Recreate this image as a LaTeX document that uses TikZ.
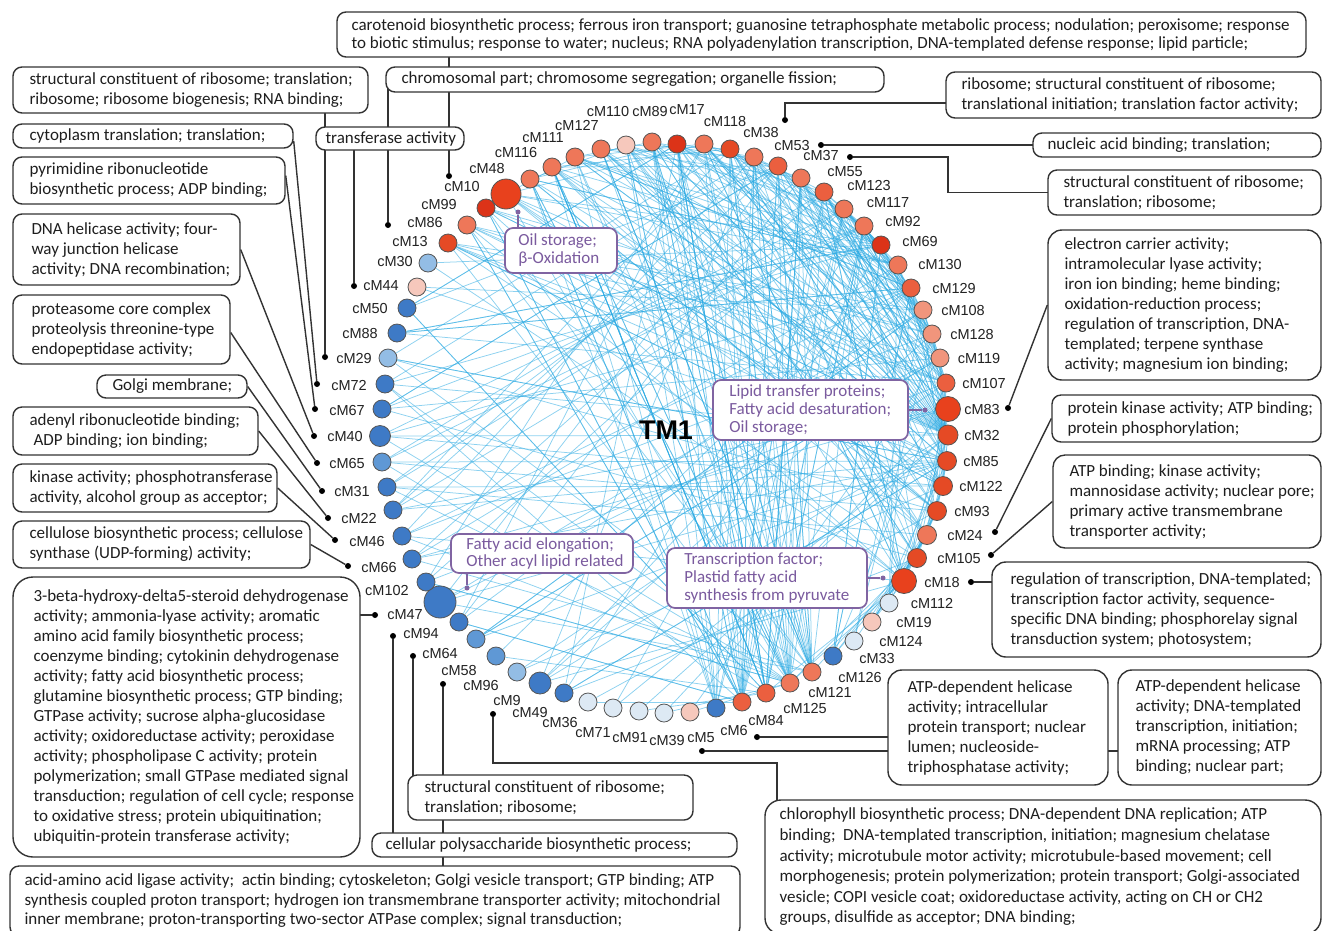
\documentclass[tikz,border=0pt]{standalone}
\usepackage{fontspec}
\newfontfamily\boxf{Carlito}
\newfontfamily\labf{Liberation Sans}
\usetikzlibrary{calc}
\pgfdeclarelayer{bg}
\pgfdeclarelayer{mid}
\pgfsetlayers{bg,mid,main}
\definecolor{boxc}{HTML}{333333}
\definecolor{txtc}{HTML}{1E1E1E}
\definecolor{purp}{HTML}{8064A2}
\definecolor{ptxt}{HTML}{7A5A9E}
\definecolor{ringc}{HTML}{555555}
\definecolor{labc}{HTML}{222222}
\definecolor{edgec}{HTML}{2FACE4}
\definecolor{rbig}{HTML}{E8411D}
\definecolor{rdark}{HTML}{DC3318}
\definecolor{rred}{HTML}{E54A25}
\definecolor{rmid}{HTML}{EB5F3F}
\definecolor{sal}{HTML}{EE7759}
\definecolor{sall}{HTML}{F1957C}
\definecolor{cpink}{HTML}{F6C8BC}
\definecolor{vlb}{HTML}{DDE9F4}
\definecolor{lb}{HTML}{93BDE5}
\definecolor{mb}{HTML}{5F98D5}
\definecolor{blu}{HTML}{3E7AC6}
\begin{document}
\begin{tikzpicture}[x=1pt,y=-1pt,
  gbox/.style={draw=boxc,line width=1.4pt,rounded corners=9pt,fill=white,inner sep=0pt},
  pbox/.style={draw=purp,line width=1.7pt,rounded corners=8pt,fill=white,inner sep=0pt},
  gtext/.style={anchor=west,align=left,inner sep=0pt,text=txtc,font=\boxf\fontsize{17}{20}\selectfont},
  ptext/.style={anchor=west,align=left,inner sep=0pt,text=ptxt,font=\boxf\fontsize{17}{17.6}\selectfont},
  conn/.style={draw=boxc,line width=1.4pt},
  pconn/.style={draw=purp,line width=1.6pt},
  dotn/.style={circle,fill=black,inner sep=0pt,minimum size=6pt},
  pdot/.style={circle,fill=purp,inner sep=0pt,minimum size=5pt},
  cmnode/.style={circle,draw=ringc,line width=0.8pt,inner sep=0pt},
  lab/.style={inner sep=0pt,font=\labf\fontsize{14.5}{16}\selectfont,text=labc},
  netedge/.style={draw=edgec,line width=0.75pt,opacity=0.55}]
\useasboundingbox (0,0) rectangle (1324,930);

% ---------- ring nodes ----------
\foreach \i/\nm/\px/\py/\rr/\col/\dx/\dy in {
1/cM10/506/194/15/rbig/-44/-7,
2/cM48/530/179/9/sal/-43/-10,
3/cM116/552/167/9/sal/-36/-14,
4/cM111/575/157/9/sal/-32/-19,
5/cM127/601/149/9/sal/-24/-23,
6/cM110/626/145/9/cpink/-18/-33,
7/cM89/652/142/9/sal/-2/-30,
8/cM17/677/144/9/rdark/10/-34,
9/cM118/704/144/9/sal/21/-22,
10/cM38/730/149/9/rred/31/-16,
11/cM53/754/157/9/sal/38/-11,
12/cM37/778/166/9/rmid/43/-10,
13/cM55/801/178/9/sal/44/-6,
14/cM123/824/192/9/rmid/45/-6,
15/cM117/844/209/9/sal/44/-6,
16/cM92/864/226/9/sal/39/-4,
17/cM69/881/245/9/rdark/39/-3,
18/cM130/898/265/9/sal/42/0,
19/cM129/911/288/9/rmid/43/0,
20/cM108/923/310/9/sall/40/0,
21/cM128/932/334/9/sall/40/0,
22/cM119/940/358/9/sall/39/0,
23/cM107/946/383/9/rmid/38/0,
24/cM83/948/409/12.5/rbig/34/0,
25/cM32/948/435/10/rred/34/0,
26/cM85/947/461/9.5/rred/34/0,
27/cM122/943/486/9.5/rred/38/0,
28/cM93/937/511/9.5/rred/35/0,
29/cM24/927/535/9.5/sal/38/0,
30/cM105/917/558/9.5/rred/42/0,
31/cM18/904/581/12.5/rbig/38/1,
32/cM112/889/603/9/vlb/43/0,
33/cM19/872/622/9/cpink/42/0,
34/cM124/854/641/9/vlb/47/0,
35/cM33/833/656/9/blu/44/2,
36/cM126/812/672/9/sal/48/5,
37/cM121/790/683/9/sal/40/9,
38/cM125/766/693/9/rmid/39/15,
39/cM84/742/702/9/rmid/24/18,
40/cM6/716/708/9/blu/18/22,
41/cM5/690/712/9/cpink/11/26,
42/cM39/664/713/9/vlb/3/27,
43/cM91/639/711/9/vlb/-9/26,
44/cM71/613/708/9/vlb/-20/25,
45/cM36/588/702/9/vlb/-28/20,
46/cM49/564/693/9/blu/-34/19,
47/cM9/540/683/11/blu/-33/17,
48/cM96/517/672/9/lb/-36/13,
49/cM58/496/656/9/mb/-37/14,
50/cM64/476/639/9/mb/-36/14,
51/cM94/459/622/9/blu/-38/11,
52/cM47/440/602/16/blu/-35/13,
53/cM102/426/582/9/blu/-39/8,
54/cM66/412/559/9/blu/-33/8,
55/cM46/402/536/9/blu/-35/5,
56/cM22/393/510/9/blu/-34/8,
57/cM31/387/487/9/blu/-35/4,
58/cM65/382/462/9/mb/-35/1,
59/cM40/380/436/10.5/blu/-35/0,
60/cM67/382/409/9/blu/-35/1,
61/cM72/385/384/9/blu/-36/1,
62/cM29/388/358/9/lb/-34/0,
63/cM88/397/333/9/blu/-37/0,
64/cM50/407/308/9/blu/-37/0,
65/cM44/417/287/9/cpink/-36/-1,
66/cM30/428/263/9/lb/-33/-1,
67/cM13/448/243/9/rred/-38/-1,
68/cM86/467/225/9/sal/-42/-2,
69/cM99/486/208/9/rdark/-47/-3}{
  \node[cmnode,fill=\col,minimum size=\rr*2pt] (n\i) at (\px,\py) {};
  \node[lab] (l\i) at ($(n\i)+(\dx,\dy)$) {\nm};
}

\node[font=\labf\bfseries\fontsize{27}{30}\selectfont,text=black] (tm) at (666,430) {TM1};

% ---------- dots ----------
\foreach \nm/\px/\py in {d10/449/176,d86/388/225,d44/354/286,d29/325/357,d72/317/384,
  d67/315/409,d40/314/436,d65/317/463,d31/322/491,d22/328/518,d46/335/540,d66/348/566,
  d47/375/615,d94/393/636,d64/413/656,d58/443/684,d9/493/714,d5/702/751,d6/757/737,
  d18/971/582,d105/991/555,d24/995/532,d83/1008/408,d37/850/157,d53/821/145,d38/785/120}{
  \node[dotn] (\nm) at (\px,\py) {};
}
\foreach \nm/\px/\py in {dp1/518/212,dp2/925/410,dp3/883/578,dp4/467/588}{
  \node[pdot] (\nm) at (\px,\py) {};
}
\coordinate (k9) at (777,763);
\coordinate (k37) at (948,157);

% ---------- black boxes ----------
\node[gbox,minimum width=969pt,minimum height=45pt] (T) at (821.5,34.5) {};
\node[gtext,font=\boxf\fontsize{17}{18}\selectfont] (Tt) at ([xshift=15pt]T.west) {carotenoid biosynthetic process; ferrous iron transport; guanosine tetraphosphate metabolic process; nodulation; peroxisome; response\\to biotic stimulus; response to water; nucleus; RNA polyadenylation transcription, DNA-templated defense response; lipid particle;};

\node[gbox,minimum width=498pt,minimum height=25pt] (CH) at (635,79.5) {};
\node[gtext] (CHt) at ([xshift=16pt]CH.west) {chromosomal part; chromosome segregation; organelle fission;};

\node[gbox,minimum width=148pt,minimum height=23pt] (TR) at (390,138.5) {};
\node[gtext] (TRt) at ([xshift=10pt]TR.west) {transferase activity};

\node[gbox,minimum width=355pt,minimum height=46pt] (L1) at (190.5,90) {};
\node[gtext] (L1t) at ([xshift=17pt]L1.west) {structural constituent of ribosome; translation;\\ribosome; ribosome biogenesis; RNA binding;};

\node[gbox,minimum width=280pt,minimum height=24pt] (L2) at (153,136) {};
\node[gtext] (L2t) at ([xshift=17pt]L2.west) {cytoplasm translation; translation;};

\node[gbox,minimum width=272pt,minimum height=47pt] (L3) at (149,180.5) {};
\node[gtext] (L3t) at ([xshift=17pt]L3.west) {pyrimidine ribonucleotide\\biosynthetic process; ADP binding;};

\node[gbox,minimum width=227pt,minimum height=71pt] (L4) at (126.5,249.5) {};
\node[gtext] (L4t) at ([xshift=19pt]L4.west) {DNA helicase activity; four-\\way junction helicase\\activity; DNA recombination;};

\node[gbox,minimum width=217pt,minimum height=69pt] (L5) at (121.5,329.5) {};
\node[gtext] (L5t) at ([xshift=19pt]L5.west) {proteasome core complex\\proteolysis threonine-type\\endopeptidase activity;};

\node[gbox,minimum width=150pt,minimum height=23pt] (L6) at (172,386.5) {};
\node[gtext] (L6t) at ([xshift=16pt]L6.west) {Golgi membrane;};

\node[gbox,minimum width=245pt,minimum height=48pt] (L7) at (135.5,431) {};
\node[gtext] (L7t) at ([xshift=17pt]L7.west) {adenyl ribonucleotide binding;\\\hspace*{4pt}ADP binding; ion binding;};

\node[gbox,minimum width=264pt,minimum height=48pt] (L8) at (145,488) {};
\node[gtext] (L8t) at ([xshift=17pt]L8.west) {kinase activity; phosphotransferase\\activity, alcohol group as acceptor;};

\node[gbox,minimum width=297pt,minimum height=47pt] (L9) at (161.5,544.5) {};
\node[gtext] (L9t) at ([xshift=17pt]L9.west) {cellulose biosynthetic process; cellulose\\synthase (UDP-forming) activity;};

\node[gbox,minimum width=347pt,minimum height=280pt,rounded corners=20pt] (L10) at (186.5,717) {};
\node[gtext] (L10t) at ([xshift=21pt]L10.west) {3-beta-hydroxy-delta5-steroid dehydrogenase\\activity; ammonia-lyase activity; aromatic\\amino acid family biosynthetic process;\\coenzyme binding; cytokinin dehydrogenase\\activity; fatty acid biosynthetic process;\\glutamine biosynthetic process; GTP binding;\\GTPase activity; sucrose alpha-glucosidase\\activity; oxidoreductase activity; peroxidase\\activity; phospholipase C activity; protein\\polymerization; small GTPase mediated signal\\transduction; regulation of cell cycle; response\\to oxidative stress; protein ubiquitination;\\ubiquitin-protein transferase activity;};

\node[gbox,minimum width=285pt,minimum height=45pt] (ST) at (550.5,797.5) {};
\node[gtext] (STt) at ([xshift=17pt]ST.west) {structural constituent of ribosome;\\translation; ribosome;};

\node[gbox,minimum width=365pt,minimum height=24pt] (CP) at (554.5,845) {};
\node[gtext] (CPt) at ([xshift=14pt]CP.west) {cellular polysaccharide biosynthetic process;};

\node[gbox,minimum width=730pt,minimum height=70pt] (AB) at (375,901) {};
\node[gtext,font=\boxf\fontsize{17}{19.5}\selectfont] (ABt) at ([xshift=15pt]AB.west) {acid-amino acid ligase activity;\ \ actin binding; cytoskeleton; Golgi vesicle transport; GTP binding; ATP\\synthesis coupled proton transport; hydrogen ion transmembrane transporter activity; mitochondrial\\inner membrane; proton-transporting two-sector ATPase complex; signal transduction;};

\node[gbox,minimum width=375pt,minimum height=46pt] (R1) at (1133.5,95) {};
\node[gtext] (R1t) at ([xshift=16pt]R1.west) {ribosome; structural constituent of ribosome;\\translational initiation; translation factor activity;};

\node[gbox,minimum width=288pt,minimum height=24pt] (R2) at (1177,145) {};
\node[gtext] (R2t) at ([xshift=15pt]R2.west) {nucleic acid binding; translation;};

\node[gbox,minimum width=273pt,minimum height=45pt] (R3) at (1184.5,192.5) {};
\node[gtext] (R3t) at ([xshift=16pt]R3.west) {structural constituent of ribosome;\\translation; ribosome;};

\node[gbox,minimum width=273pt,minimum height=150pt,rounded corners=14pt] (R4) at (1184.5,305) {};
\node[gtext] (R4t) at ([xshift=17pt]R4.west) {electron carrier activity;\\intramolecular lyase activity;\\iron ion binding; heme binding;\\oxidation-reduction process;\\regulation of transcription, DNA-\\templated; terpene synthase\\activity; magnesium ion binding;};

\node[gbox,minimum width=269pt,minimum height=47pt] (R5) at (1186.5,418.5) {};
\node[gtext] (R5t) at ([xshift=16pt]R5.west) {protein kinase activity; ATP binding;\\protein phosphorylation;};

\node[gbox,minimum width=268pt,minimum height=93pt,rounded corners=12pt] (R6) at (1187,501.5) {};
\node[gtext] (R6t) at ([xshift=17pt]R6.west) {ATP binding; kinase activity;\\mannosidase activity; nuclear pore;\\primary active transmembrane\\transporter activity;};

\node[gbox,minimum width=329pt,minimum height=95pt,rounded corners=14pt] (R7) at (1156.5,609.5) {};
\node[gtext] (R7t) at ([xshift=19pt]R7.west) {regulation of transcription, DNA-templated;\\transcription factor activity, sequence-\\specific DNA binding; phosphorelay signal\\transduction system; photosystem;};

\node[gbox,minimum width=220pt,minimum height=115pt,rounded corners=14pt] (R8) at (998,727.5) {};
\node[gtext] (R8t) at ([xshift=20pt]R8.west) {ATP-dependent helicase\\activity; intracellular\\protein transport; nuclear\\lumen; nucleoside-\\triphosphatase activity;};

\node[gbox,minimum width=203pt,minimum height=115pt,rounded corners=14pt] (R9) at (1219.5,727.5) {};
\node[gtext] (R9t) at ([xshift=18pt]R9.west) {ATP-dependent helicase\\activity; DNA-templated\\transcription, initiation;\\mRNA processing; ATP\\binding; nuclear part;};

\node[gbox,minimum width=556pt,minimum height=134pt,rounded corners=16pt] (R10) at (1043,867) {};
\node[gtext,font=\boxf\fontsize{17}{20.6}\selectfont] (R10t) at ([xshift=15pt]R10.west) {chlorophyll biosynthetic process; DNA-dependent DNA replication; ATP\\binding;\ \ DNA-templated transcription, initiation; magnesium chelatase\\activity; microtubule motor activity; microtubule-based movement; cell\\morphogenesis; protein polymerization; protein transport; Golgi-associated\\vesicle; COPI vesicle coat; oxidoreductase activity, acting on CH or CH2\\groups, disulfide as acceptor; DNA binding;};

% ---------- purple boxes ----------
\node[pbox,minimum width=112pt,minimum height=45pt] (P1) at (561,250.5) {};
\node[ptext,font=\boxf\fontsize{17}{18}\selectfont] (P1t) at ([xshift=14pt]P1.west) {Oil storage;\\β-Oxidation};

\node[pbox,minimum width=195pt,minimum height=60pt] (P2) at (810.5,410) {};
\node[ptext] (P2t) at ([xshift=17pt]P2.west) {Lipid transfer proteins;\\Fatty acid desaturation;\\Oil storage;};

\node[pbox,minimum width=200pt,minimum height=60pt] (P3) at (767,578) {};
\node[ptext] (P3t) at ([xshift=18pt]P3.west) {Transcription factor;\\Plastid fatty acid\\synthesis from pyruvate};

\node[pbox,minimum width=182pt,minimum height=39pt] (P4) at (542,553.5) {};
\node[ptext,font=\boxf\fontsize{17}{17}\selectfont] (P4t) at ([xshift=16pt]P4.west) {Fatty acid elongation;\\Other acyl lipid related};

% ---------- network edges ----------
\begin{pgfonlayer}{bg}
\fill[white] (0,0) rectangle (1324,930);
\foreach \i in {1,...,16,67,68,69}{
  \foreach \k in {1,...,8}{
    \pgfmathtruncatemacro{\m}{mod(13*\i+17*\k+5*\i*\k+3*\k*\k,19)}
    \pgfmathtruncatemacro{\j}{17+\m+4*(\m>14)}
    \draw[netedge] (n\i) -- (n\j);
  }
}
\foreach \i in {36,...,40}{
  \foreach \k in {1,...,10}{
    \pgfmathtruncatemacro{\j}{2+mod(7*\i+11*\k+3*\i*\k,15)}
    \draw[netedge] (n\i) -- (n\j);
  }
}
\foreach \i in {35,46,47,50,51,52,53,54,55,56,57,58,59,60,61,62,63,64}{
  \foreach \k in {1,...,5}{
    \pgfmathtruncatemacro{\m}{mod(11*\i+7*\k+2*\i*\k+\k*\k,28)}
    \pgfmathtruncatemacro{\j}{8+\m+4*(\m>23)}
    \draw[netedge] (n\i) -- (n\j);
  }
}
\foreach \i in {14,...,31}{
  \foreach \k in {1,2,3}{
    \pgfmathtruncatemacro{\j}{\i+2+mod(\i+5*\k,6)}
    \draw[netedge] (n\i) -- (n\j);
  }
}
\foreach \i in {32,33,34,41,42,43,44,45,48,49,65,66}{
  \foreach \k in {1,2}{
    \pgfmathtruncatemacro{\m}{mod(9*\i+5*\k+\i*\k,19)}
    \pgfmathtruncatemacro{\j}{17+\m+4*(\m>14)}
    \draw[netedge] (n\i) -- (n\j);
  }
}
\foreach \i in {1,...,12}{
  \foreach \k in {1,2}{
    \pgfmathtruncatemacro{\j}{\i+3+mod(3*\i+2*\k,7)}
    \draw[netedge] (n\i) -- (n\j);
  }
}
\end{pgfonlayer}

% ---------- connectors ----------
\begin{pgfonlayer}{mid}
\draw[conn] (T.center -| d10) -- (CH.center -| d10);
\draw[conn] (CH.center -| d10) -- (d10);
\draw[conn] (CH.center -| d86) -- (TR.center -| d86);
\draw[conn] (TR.center -| d86) -- (d86);
\draw[conn] (TR.center -| d44) -- (d44);
\draw[conn] (L1.center -| d29) -- (d29);
\draw[conn] ([yshift=-5pt]L2.east) -- (d72);
\draw[conn] ([yshift=5pt]L3.east) -- (d67);
\draw[conn] (L4.east) -- (d40);
\draw[conn] ([yshift=-3pt]L5.east) -- (d65);
\draw[conn] (L6.east) -- (d31);
\draw[conn] (L7.east) -- (d22);
\draw[conn] (L8.east) -- (d46);
\draw[conn] (L9.east) -- (d66);
\draw[conn] (L10.center |- d47) -- (d47);
\draw[conn] (d94) -- (d94 |- CP.center);
\draw[conn] (d64) -- (d64 |- ST.center);
\draw[conn] (d58) -- (d58 |- AB.center);
\draw[conn] (d9) |- (k9) -- (k9 |- R10.center);
\draw[conn] (d6) -- (d6 -| R8.center);
\draw[conn] (d5) -- (d5 -| R9.center);
\draw[conn] (d18) -- (d18 -| R7.center);
\draw[conn] (d105) -- (R6.west);
\draw[conn] (d24) -- (R5.west);
\draw[conn] (d83) -- (R4.west);
\draw[conn] (d37) -- (k37) |- (R3.center);
\draw[conn] (d53) -- (d53 -| R2.center);
\draw[conn] (d38) |- ([yshift=-8pt]R1.center);
\draw[pconn] (dp1) -- (dp1 |- P1.center);
\draw[pconn] (P2.center) -- (dp2);
\draw[pconn] (P3.center) -- (dp3);
\draw[pconn] (dp4) -- (dp4 |- P4.center);
\end{pgfonlayer}
\end{tikzpicture}
\end{document}
